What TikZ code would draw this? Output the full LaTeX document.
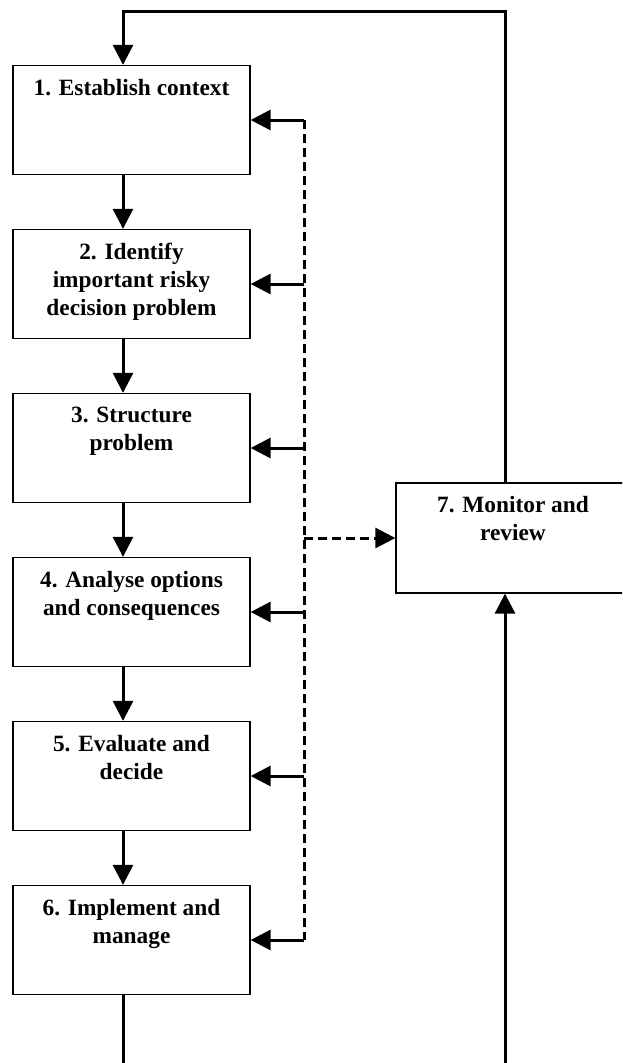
\documentclass[tikz,border=0pt]{standalone}
\usepackage{fontspec}
\setmainfont{Liberation Serif}
\usetikzlibrary{arrows.meta}
\begin{document}
\begin{tikzpicture}[x=0.75pt,y=-0.75pt,
  box/.style={draw,line width=1pt,inner sep=0pt,minimum width=177.75pt,minimum height=81.75pt},
  lbl/.style={anchor=north,inner sep=0pt,align=center,font=\fontsize{17.5pt}{21pt}\selectfont\bfseries},
  conn/.style={line width=2.25pt},
  arr/.style={conn,-{Triangle[length=15pt,width=15pt]}},
  dashline/.style={conn,dash pattern=on 6.5pt off 4pt},
  dasharr/.style={dashline,-{Triangle[length=15pt,width=15pt]}}]
\clip (0,0) rectangle (622,1063);
\fill[white] (0,0) rectangle (622,1063);
% reference coordinates
\coordinate (ax) at (123,0);
\coordinate (dx) at (304,0);
\coordinate (rx) at (505,0);
\coordinate (top) at (0,12);
\coordinate (bl) at (123,1063);
\coordinate (br) at (505,1063);
% boxes
\node[box] (b1) at (131.5,120) {};
\node[box] (b2) at (131.5,284) {};
\node[box] (b3) at (131.5,448) {};
\node[box] (b4) at (131.5,612) {};
\node[box] (b5) at (131.5,776) {};
\node[box] (b6) at (131.5,940) {};
\node[box,minimum width=175.5pt,minimum height=82.5pt] (b7) at (513,538) {};
% labels
\node[lbl] (t1) at ([yshift=-10.5pt]b1.north) {1. Establish context};
\node[lbl] (t2) at ([yshift=-10.5pt]b2.north) {2. Identify\\important risky\\decision problem};
\node[lbl] (t3) at ([yshift=-10.5pt]b3.north) {3. Structure\\problem};
\node[lbl] (t4) at ([yshift=-10.5pt]b4.north) {4. Analyse options\\and consequences};
\node[lbl] (t5) at ([yshift=-10.5pt]b5.north) {5. Evaluate and\\decide};
\node[lbl] (t6) at ([yshift=-10.5pt]b6.north) {6. Implement and\\manage};
\node[lbl] (t7) at ([yshift=-10.5pt]b7.north) {7. Monitor and\\review};
% main flow
\draw[arr] (b1.south -| ax) -- (b2.north -| ax);
\draw[arr] (b2.south -| ax) -- (b3.north -| ax);
\draw[arr] (b3.south -| ax) -- (b4.north -| ax);
\draw[arr] (b4.south -| ax) -- (b5.north -| ax);
\draw[arr] (b5.south -| ax) -- (b6.north -| ax);
% loop
\draw[conn] (b6.south -| ax) -- (bl);
\draw[arr] (br) -- (b7.south -| rx);
\draw[arr] (b7.north -| rx) |- (top -| ax) -- (b1.north -| ax);
% dashed feedback
\draw[dashline] (b1.east -| dx) -- (b6.east -| dx);
\draw[dasharr] (b7.west -| dx) -- (b7.west);
\draw[arr] (b1.east -| dx) -- (b1.east);
\draw[arr] (b2.east -| dx) -- (b2.east);
\draw[arr] (b3.east -| dx) -- (b3.east);
\draw[arr] (b4.east -| dx) -- (b4.east);
\draw[arr] (b5.east -| dx) -- (b5.east);
\draw[arr] (b6.east -| dx) -- (b6.east);
\end{tikzpicture}
\end{document}
